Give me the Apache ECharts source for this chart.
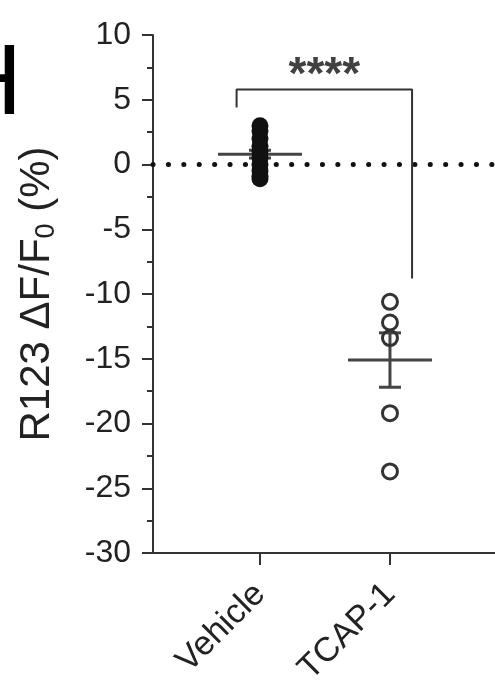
<!DOCTYPE html>
<html>
<head>
<meta charset="utf-8">
<script src="https://cdn.jsdelivr.net/npm/echarts@6/dist/echarts.min.js"></script>
<style>
  html, body { margin: 0; padding: 0; background: #fff; }
  #chart { width: 495px; height: 681px; }
</style>
</head>
<body>
<div id="chart"></div>
<script>
// groups on the x axis (placed at 1 and 2)
var groups = ['Vehicle', 'TCAP-1'];
// individual points
var vehicleVals = [3.0, 2.6, 2.0, 1.4, 1.0, 0.5, 0.0, -0.5, -0.9, -1.1];
var tcapVals = [-10.6, -12.2, -13.4, -19.2, -23.7];
// mean and SEM as drawn
var means = [0.8, -15.1];
var sems = [0.3, 2.1];
// y ticks
var yMin = -30, yMax = 10, yStep = 5;
// significance bracket
var bracketX = [0.82, 2.17];
var bracketTop = 5.8, bracketLeftEnd = 4.4, bracketRightEnd = -8.8;
var sigText = '****';

var txt = '#222';
var axisCol = '#333';
var font = 'Liberation Sans, Arial, sans-serif';

var xMin = 0.177, xMax = 2.808;

var chart = echarts.init(document.getElementById('chart'));

var option = {
  animation: false,
  backgroundColor: '#fff',
  grid: { left: 153, right: 0, top: 35, bottom: 128, containLabel: false, outerBoundsMode: 'none' },
  graphic: [{
    type: 'text',
    left: -50,
    top: 36,
    style: { text: 'H', fontSize: 100, fontFamily: font, fill: '#000' }
  }],
  xAxis: {
    type: 'value',
    min: xMin,
    max: xMax,
    splitLine: { show: false },
    axisLine: { onZero: false, lineStyle: { color: axisCol, width: 2 } },
    axisTick: { length: 12, customValues: [1, 2], lineStyle: { color: axisCol, width: 2 } },
    axisLabel: {
      customValues: [1, 2],
      formatter: function(v) { return groups[Math.round(v) - 1]; },
      rotate: 45,
      margin: 36,
      fontSize: 34,
      color: txt,
      fontFamily: font
    }
  },
  yAxis: {
    type: 'value',
    min: yMin,
    max: yMax,
    interval: yStep,
    name: 'R123 ΔF/F{sub|0} (%)',
    nameLocation: 'middle',
    nameRotate: 90,
    nameGap: 93,
    nameTextStyle: {
      fontSize: 42,
      color: txt,
      fontFamily: font,
      rich: {
        sub: { fontSize: 27, color: txt, fontFamily: font, padding: [18, 0, 0, 0] }
      }
    },
    splitLine: { show: false },
    axisLine: { show: true, lineStyle: { color: axisCol, width: 2 } },
    axisTick: { show: true, length: 11, lineStyle: { color: axisCol, width: 2 } },
    minorTick: { show: true, splitNumber: 2, length: 6, lineStyle: { color: axisCol, width: 2 } },
    axisLabel: { fontSize: 32, color: txt, fontFamily: font, margin: 22 }
  },
  series: [
    {
      // dotted zero line
      type: 'line',
      data: [[xMin, 0], [xMax, 0]],
      symbol: 'none',
      silent: true,
      z: 1,
      lineStyle: { color: '#111', width: 5, type: [0.1, 15.3], cap: 'round' }
    },
    {
      // mean and SEM
      type: 'custom',
      z: 2,
      data: means.map(function(m, i) { return [i + 1, m, sems[i]]; }),
      renderItem: function(params, api) {
        var x = api.value(0), m = api.value(1), s = api.value(2);
        var a = api.coord([x, m]);
        var hi = api.coord([x, m + s]);
        var lo = api.coord([x, m - s]);
        var half = 42, cap = 11;
        var st = { stroke: '#444', lineWidth: 3 };
        return {
          type: 'group',
          children: [
            { type: 'line', shape: { x1: a[0] - half, y1: a[1], x2: a[0] + half, y2: a[1] }, style: st },
            { type: 'line', shape: { x1: a[0], y1: hi[1], x2: a[0], y2: lo[1] }, style: st },
            { type: 'line', shape: { x1: a[0] - cap, y1: hi[1], x2: a[0] + cap, y2: hi[1] }, style: st },
            { type: 'line', shape: { x1: a[0] - cap, y1: lo[1], x2: a[0] + cap, y2: lo[1] }, style: st }
          ]
        };
      }
    },
    {
      type: 'scatter',
      z: 3,
      symbol: 'circle',
      symbolSize: 17,
      itemStyle: { color: '#111', opacity: 1 },
      data: vehicleVals.map(function(v) { return [1, v]; })
    },
    {
      type: 'scatter',
      z: 3,
      symbol: 'circle',
      symbolSize: 15,
      itemStyle: { color: 'rgba(0,0,0,0)', borderColor: '#333', borderWidth: 3, opacity: 1 },
      data: tcapVals.map(function(v) { return [2, v]; })
    },
    {
      // significance bracket
      type: 'line',
      z: 2,
      symbol: 'none',
      silent: true,
      lineStyle: { color: axisCol, width: 2 },
      data: [
        [bracketX[0], bracketLeftEnd],
        [bracketX[0], bracketTop],
        [bracketX[1], bracketTop],
        [bracketX[1], bracketRightEnd]
      ]
    },
    {
      type: 'scatter',
      symbolSize: 0,
      silent: true,
      data: [[(bracketX[0] + bracketX[1]) / 2, bracketTop]],
      label: {
        show: true,
        position: 'top',
        distance: 0,
        offset: [0, 10],
        formatter: sigText,
        fontSize: 46,
        fontWeight: 'bold',
        color: '#111',
        fontFamily: font
      }
    }
  ]
};

chart.setOption(option);
</script>
</body>
</html>
